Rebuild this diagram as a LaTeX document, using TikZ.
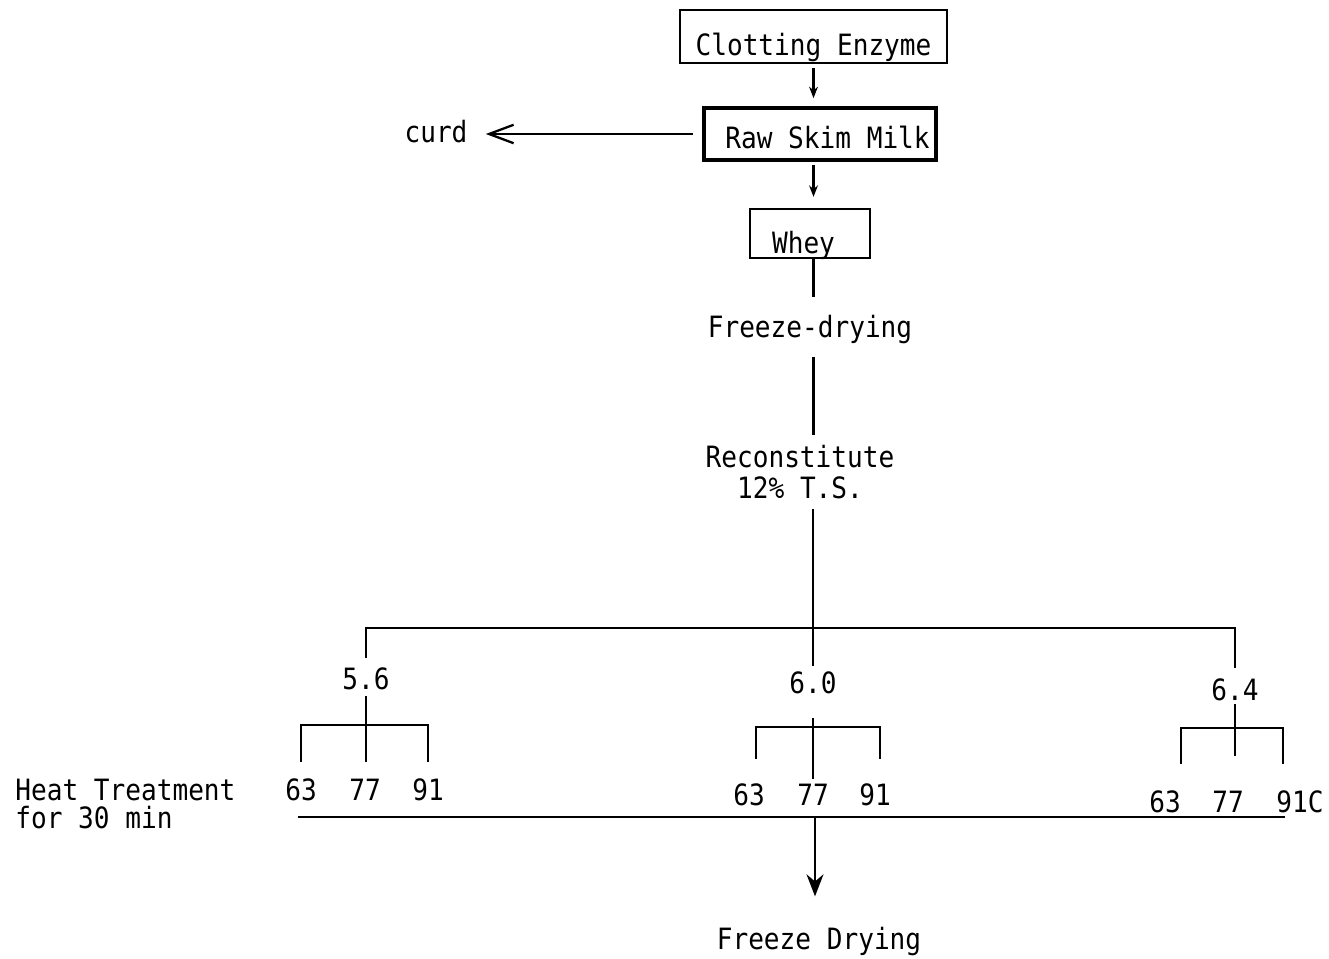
\documentclass[tikz,border=0pt]{standalone}
\usepackage{fontspec}
\setmainfont{DejaVu Sans Mono}[FakeStretch=0.89]
\usetikzlibrary{arrows.meta,positioning,calc}
\newlength{\pxl}\setlength{\pxl}{0.02cm}

\begin{document}
\begin{tikzpicture}[
  x=0.02cm, y=-0.02cm,
  font=\fontsize{16.7pt}{20pt}\selectfont,
  box/.style={draw, line width=1.3pt, inner sep=0pt, anchor=base},
  txt/.style={inner sep=0pt, anchor=base},
  ln/.style={line width=1.4pt},
  arr/.style={-{Stealth[length=6.5pt,width=5pt]}, line width=1.3pt},
  bigarr/.style={-{Stealth[length=12.5pt,width=9.6pt,inset=4pt]}, line width=1.4pt},
  barb/.style={-{Straight Barb[length=14pt,width=10.5pt]}, line width=1.3pt}
]
  \useasboundingbox (0,0) rectangle (1329,958);
  % boxes at the top
  \node[box, minimum width=267\pxl, text height=45\pxl, text depth=8\pxl] (enzyme) at (813.5,55) {Clotting Enzyme};
  \node[box, line width=2.1pt, minimum width=232\pxl, text height=40\pxl, text depth=12\pxl]
    (milk) at (820,148) {\hspace*{15\pxl}Raw Skim Milk};
  \node[box, minimum width=120\pxl, text height=44\pxl, text depth=5\pxl]
    (whey) at (810,253) {Whey\hspace*{13\pxl}};
  \node[txt] (curd) at (436,142) {curd};
  \draw[arr, shorten <=4\pxl, shorten >=8\pxl] (enzyme.south) -- (enzyme.south |- milk.north);
  \draw[arr, shorten <=3\pxl, shorten >=11\pxl] (milk.south -| enzyme.south) -- (whey.north -| enzyme.south);
  \draw[barb, shorten <=9\pxl, shorten >=18\pxl] (milk.west) -- (milk.west -| curd.east);
  % trunk
  \node[txt] (dry) at (810,337) {Freeze-drying};
  \node[txt, align=center, font=\fontsize{16.7pt}{17.6pt}\selectfont] (recon) at (800,498) {Reconstitute\\12\% T.S.};
  \draw[ln, shorten >=17\pxl] (whey.south -| enzyme.south) -- (dry.north -| enzyme.south);
  \draw[ln, shorten <=13\pxl, shorten >=9\pxl] (dry.south -| enzyme.south) -- (recon.north -| enzyme.south);
  % pH split
  \node[txt] (ph56) at (366,689) {5.6};
  \node[txt] (ph60) at (813,693) {6.0};
  \node[txt] (ph64) at (1235,700) {6.4};
  \coordinate (hub) at (813,628);
  \draw[ln, shorten <=10\pxl, shorten >=5\pxl] (recon.south -| ph60) -- (ph60);
  \draw[ln, shorten <=9\pxl, shorten >=10\pxl] (ph56) |- (hub) -| (ph64);
  % temperatures
  \node[txt] (a56) at (301,800) {63};
  \node[txt] (b56) at (365,800) {77};
  \node[txt] (c56) at (428,800) {91};
  \node[txt] (a60) at (749,805) {63};
  \node[txt] (b60) at (813,805) {77};
  \node[txt] (c60) at (875,805) {91};
  \node[txt] (a64) at (1165,812) {63};
  \node[txt] (b64) at (1228,812) {77};
  \node[txt] (c64) at (1300,812) {91C};
  \coordinate (k56) at (366,725);
  \coordinate (k60) at (813,727);
  \coordinate (k64) at (1235,728);
  \draw[ln, shorten <=6\pxl, shorten >=16\pxl] (ph56) -- (ph56 |- b56.north);
  \draw[ln, shorten <=16\pxl, shorten >=16\pxl] (a56) |- (k56) -| (c56);
  \draw[ln, shorten <=24\pxl, shorten >=4\pxl] (ph60) -- (ph60 |- b60.north);
  \draw[ln, shorten <=24\pxl, shorten >=24\pxl] ([xshift=7\pxl]a60.north) |- (k60) -| ([xshift=5\pxl]c60.north);
  \draw[ln, shorten <=3\pxl, shorten >=34\pxl] (ph64) -- (ph64 |- b64.north);
  \draw[ln, shorten <=26\pxl, shorten >=26\pxl] (a64.north east) |- (k64) -| ([xshift=7\pxl]c64.north west);
  % heat treatment and final step
  \node[txt, anchor=base west, align=left, font=\fontsize{16.7pt}{15.9pt}\selectfont] (heat) at (15,828) {Heat Treatment\\for 30 min};
  \coordinate (hl) at (298,817);
  \coordinate (hr) at (1285,817);
  \coordinate (hc) at (815,817);
  \draw[ln] (hl) -- (hr);
  \node[txt] (final) at (819,949) {Freeze Drying};
  \draw[bigarr, shorten >=30\pxl] (hc) -- (hc |- final.north);
\end{tikzpicture}
\end{document}
